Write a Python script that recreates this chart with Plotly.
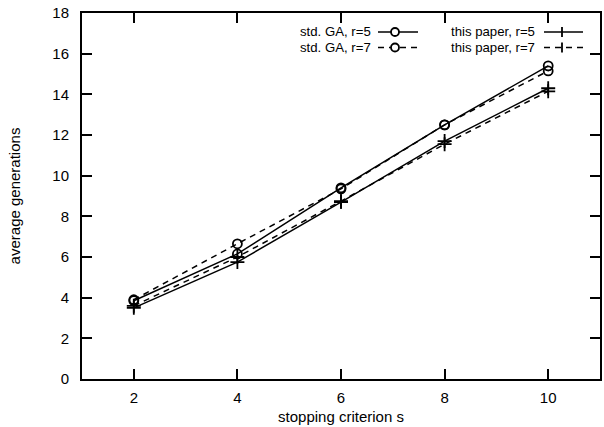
import plotly.graph_objects as go

s = [2, 4, 6, 8, 10]
std_ga_r5 = [3.85, 6.15, 9.4, 12.5, 15.4]
std_ga_r7 = [3.9, 6.65, 9.35, 12.5, 15.15]
paper_r5 = [3.5, 5.75, 8.7, 11.7, 14.3]
paper_r7 = [3.6, 6.0, 8.75, 11.55, 14.15]

series = [
    ("std. GA, r=5", std_ga_r5, "solid", "circle-open"),
    ("std. GA, r=7", std_ga_r7, "6px,5px", "circle-open"),
    ("this paper, r=5", paper_r5, "solid", "cross-thin-open"),
    ("this paper, r=7", paper_r7, "6px,5px", "cross-thin-open"),
]

FONT = "Liberation Sans, Arial, Helvetica, sans-serif"
fig = go.Figure()
for name, ys, dash, sym in series:
    fig.add_trace(go.Scatter(
        x=s, y=ys, mode="lines+markers", name=name,
        line=dict(color="black", width=1.5, dash=dash),
        marker=dict(symbol=sym, size=9 if "circle" in sym else 10,
                    color="black", line=dict(color="black", width=1.8)),
        showlegend=False,
    ))

W, H = 604, 427
ml, mr, mt, mb = 82, 4, 13, 48
pw, ph = W - ml - mr, H - mt - mb

def px(xp):
    return (xp - ml) / pw

def py(yp):
    return 1 - (yp - mt) / ph

shapes = []
annotations = []
legend_rows = [32, 47.5]
cols = [(372, 374, 418, 395), (536, 540, 583, 562)]
for i, (name, ys, dash, sym) in enumerate(series):
    col = i // 2
    row = i % 2
    tx, lx0, lx1, mx = cols[col]
    yy = legend_rows[row]
    annotations.append(dict(x=px(tx), y=py(yy), xref="paper", yref="paper",
                            text=name, showarrow=False, xanchor="right",
                            yanchor="middle", borderpad=0,
                            font=dict(size=13.2, color="black", family=FONT)))
    shapes.append(dict(type="line", xref="paper", yref="paper",
                       x0=px(lx0 + 4), x1=px(lx1), y0=py(yy), y1=py(yy),
                       line=dict(color="black", width=1.5, dash=dash)))
    if "circle" in sym:
        shapes.append(dict(type="circle", xref="paper", yref="paper",
                           xsizemode="pixel", ysizemode="pixel",
                           xanchor=px(mx), yanchor=py(yy),
                           x0=-4, x1=4, y0=-4, y1=4,
                           fillcolor="white", line=dict(color="black", width=1.8)))
    else:
        shapes.append(dict(type="line", xref="paper", yref="paper",
                           xsizemode="pixel", ysizemode="pixel",
                           xanchor=px(mx), yanchor=py(yy),
                           x0=0, x1=0, y0=-5, y1=5,
                           line=dict(color="black", width=1.8)))

fig.update_layout(
    width=W, height=H,
    margin=dict(l=ml, r=mr, t=mt, b=mb, autoexpand=False),
    paper_bgcolor="white", plot_bgcolor="white",
    font=dict(family=FONT, size=15, color="black"),
    shapes=shapes, annotations=annotations,
    xaxis=dict(range=[1, 11], tickvals=s, ticks="inside", ticklen=10, tickwidth=1.5,
               tickcolor="black", showline=True, linecolor="black", linewidth=2,
               mirror="ticks", showgrid=False, zeroline=False,
               ticklabelstandoff=4,
               title=dict(text="stopping criterion s", standoff=6, font=dict(size=15))),
    yaxis=dict(range=[0, 18], dtick=2, ticks="inside", ticklen=10, tickwidth=1.5,
               tickcolor="black", showline=True, linecolor="black", linewidth=2,
               mirror="ticks", showgrid=False, zeroline=False,
               ticklabelstandoff=8,
               title=dict(text="average generations", standoff=28, font=dict(size=15))),
)
fig.write_html("out.html")
